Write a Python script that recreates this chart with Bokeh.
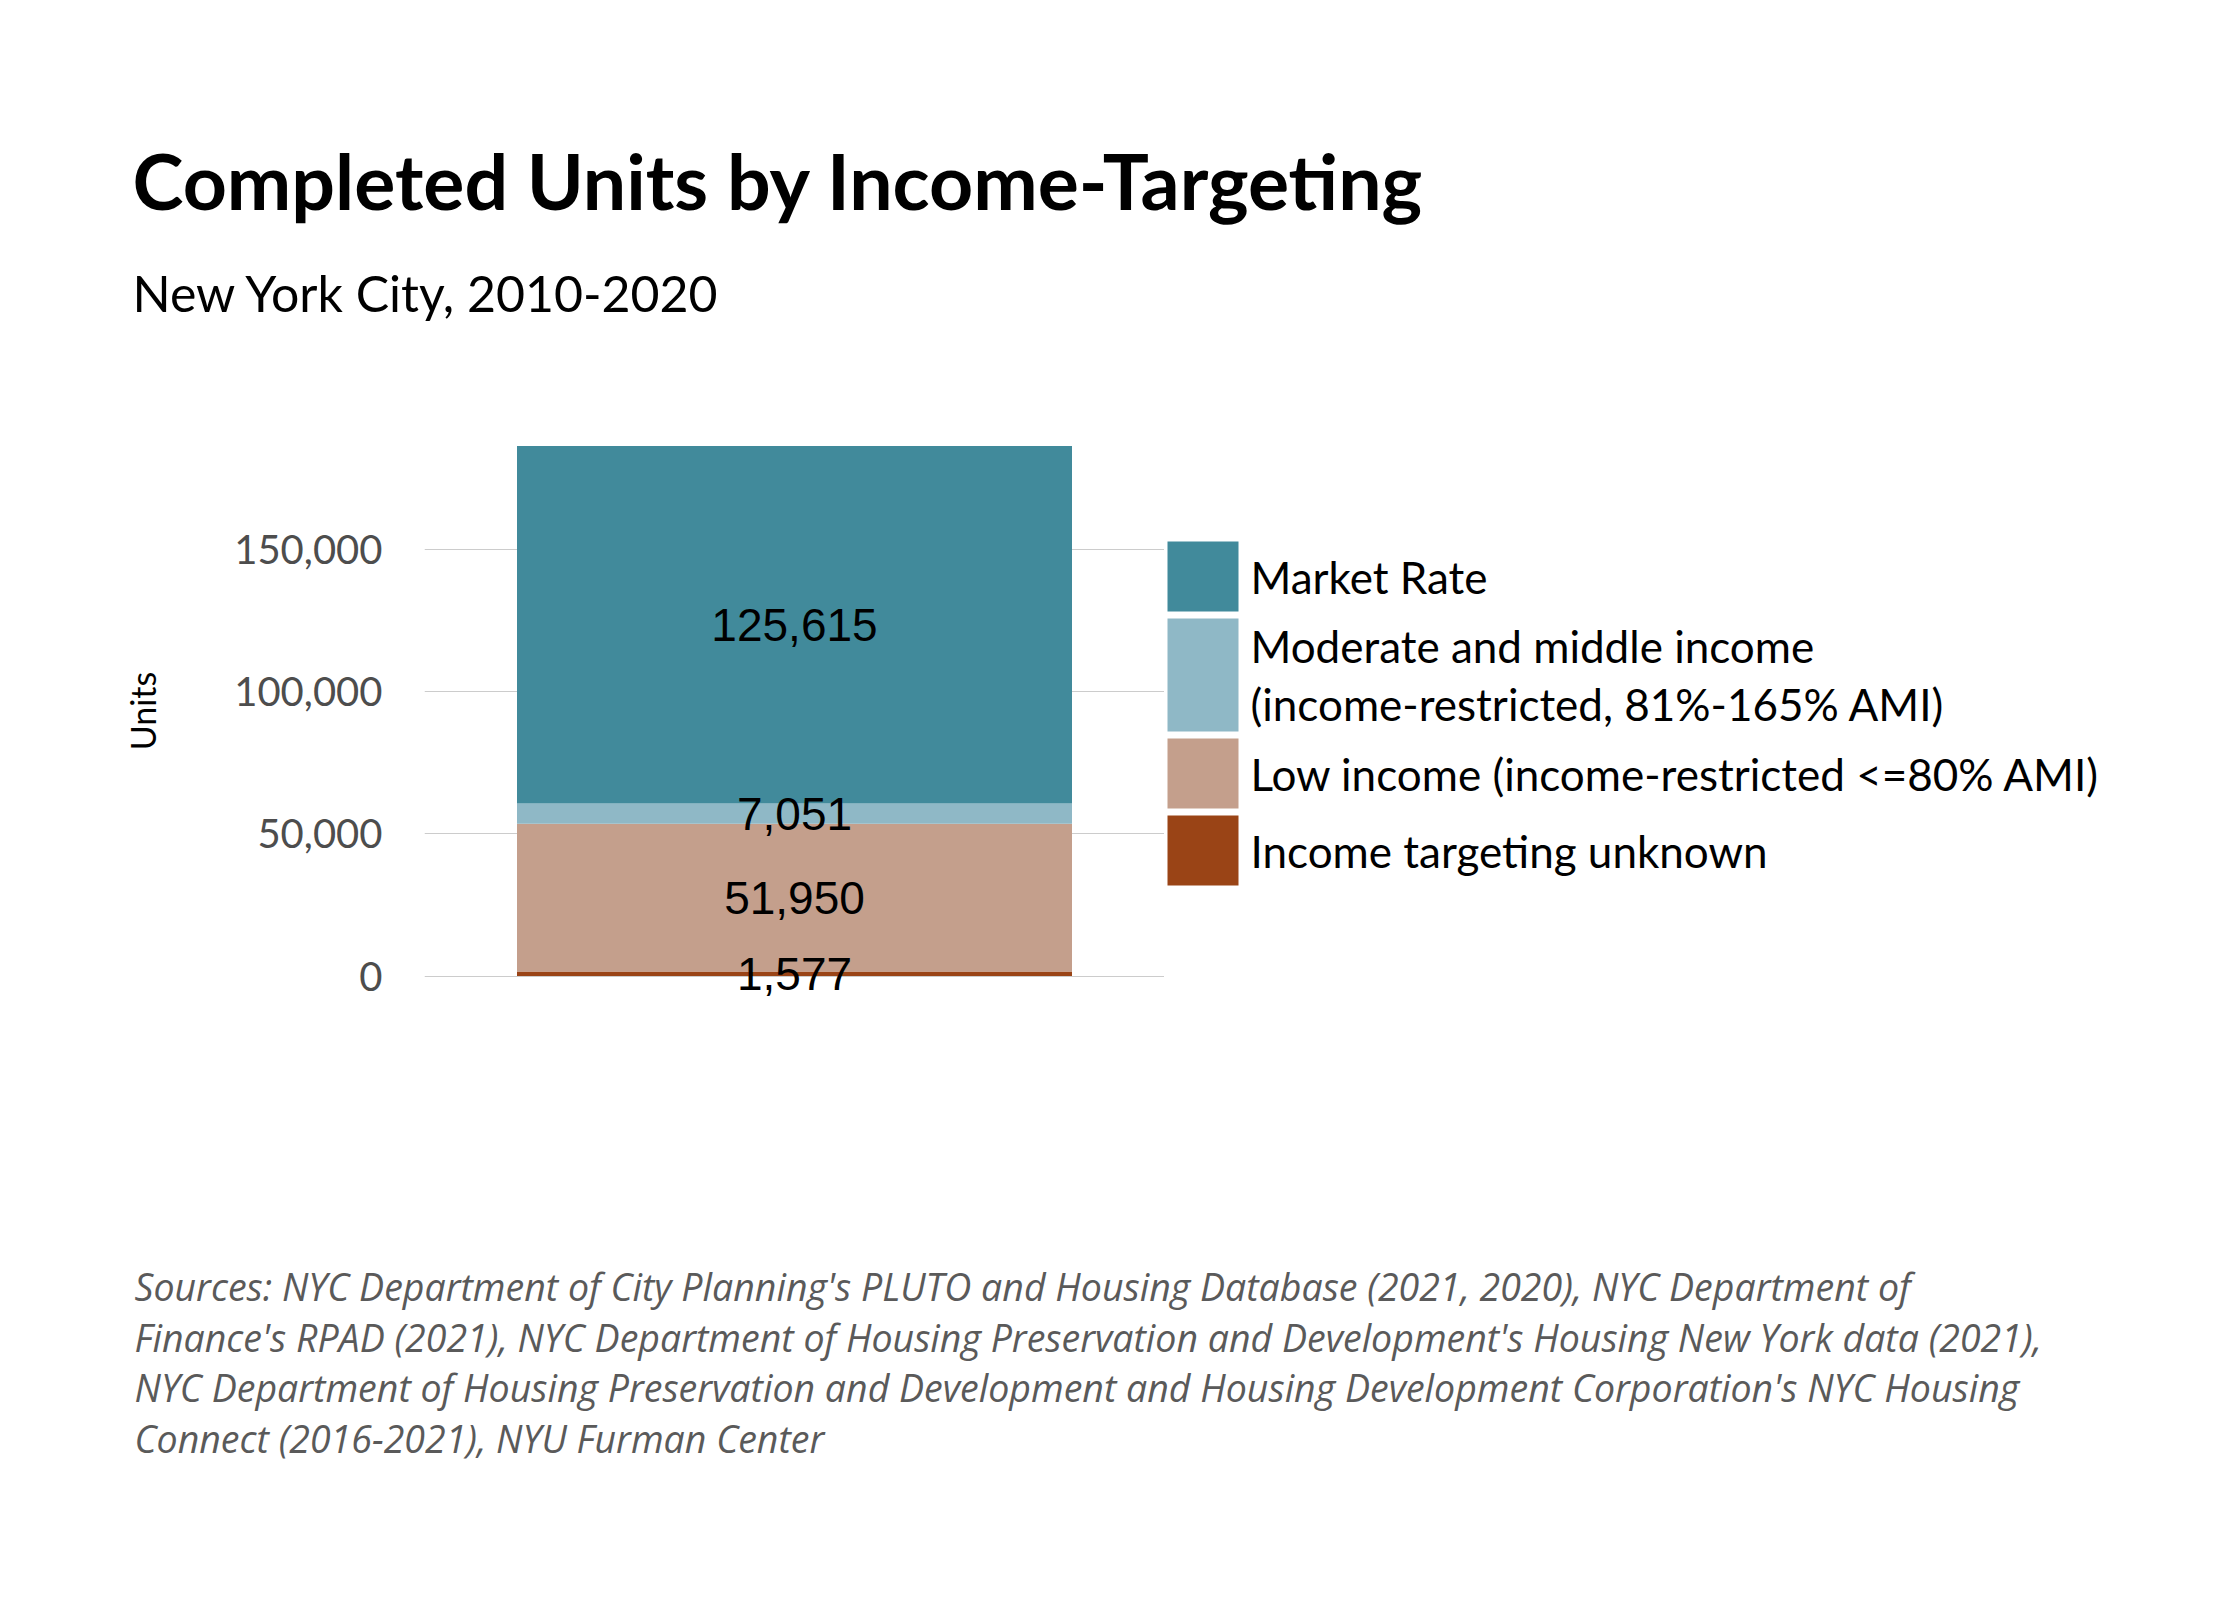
from bokeh.plotting import figure
from bokeh.layouts import column, row
from bokeh.models import (ColumnDataSource, FactorRange, Range1d, FixedTicker,
                          NumeralTickFormatter)
from bokeh.core.properties import value
from bokeh.embed import file_html
from bokeh.resources import INLINE

# ---------------- data ----------------
group = ["New York City, 2010-2020"]
series_keys = ["unknown", "low", "moderate", "market"]
series_labels = [
    ["Income targeting unknown"],
    ["Low income (income-restricted <=80% AMI)"],
    ["Moderate and middle income", "(income-restricted, 81%-165% AMI)"],
    ["Market Rate"],
]
series_values = [1577, 51950, 7051, 125615]
series_colors = ["#9A4416", "#C49F8C", "#8FB8C6", "#418A9B"]
y_ticks = [0, 50000, 100000, 150000]

title_text = "Completed Units by Income-Targeting"
subtitle_text = "New York City, 2010-2020"
y_title = "Units"
source_lines = [
    "Sources: NYC Department of City Planning's PLUTO and Housing Database (2021, 2020), NYC Department of",
    "Finance's RPAD (2021), NYC Department of Housing Preservation and Development's Housing New York data (2021),",
    "NYC Department of Housing Preservation and Development and Housing Development Corporation's NYC Housing",
    "Connect (2016-2021), NYU Furman Center",
]

# ---------------- layout (page pixels) ----------------
W, H = 2224, 1584
HEAD_H = 419          # top of the plot frame
MID_H = 583           # plot frame height
FOOT_H = H - HEAD_H - MID_H
CHART_W = 1164        # right edge of plot frame
FRAME_L = 424         # left edge of plot frame
LEG_W = W - CHART_W


def blank(width, height, x0, x1, y0, y1):
    f = figure(width=width, height=height, title=None,
               x_range=Range1d(x0, x1), y_range=Range1d(y1, y0),
               x_axis_location=None, y_axis_location=None,
               toolbar_location=None, output_backend="svg", min_border=0)
    f.grid.visible = False
    f.outline_line_color = None
    f.background_fill_color = "white"
    f.border_fill_color = "white"
    return f


# ---------------- header ----------------
head = blank(W, HEAD_H, 0, W, 0, HEAD_H)
head.text(x=[132], y=[179], text=[title_text], text_font=value("Lato"),
          text_font_size="77px", text_font_style="bold", text_color="black",
          text_align="left", text_baseline="alphabetic")
head.text(x=[132], y=[292], text=[subtitle_text], text_font=value("Lato"),
          text_font_size="50px", text_color="black",
          text_align="left", text_baseline="alphabetic")

# ---------------- chart ----------------
total = sum(series_values)
data = {"group": group}
for k, v in zip(series_keys, series_values):
    data[k] = [v]
source = ColumnDataSource(data)

p = figure(width=CHART_W, height=MID_H, title=None,
           x_range=FactorRange(factors=group),
           y_range=Range1d(-0.05 * total, 1.05 * total),
           x_axis_location=None,
           output_backend="svg", toolbar_location=None,
           min_border_left=FRAME_L, min_border_right=0,
           min_border_top=0, min_border_bottom=0)
p.outline_line_color = None
p.background_fill_color = "white"
p.border_fill_color = "white"

p.vbar_stack(series_keys, x="group", width=0.75, source=source,
             color=series_colors, line_color=None)

ax = p.yaxis[0]
ax.ticker = FixedTicker(ticks=y_ticks)
ax.formatter = NumeralTickFormatter(format="0,0")
ax.axis_line_color = None
ax.major_tick_line_color = None
ax.minor_tick_line_color = None
ax.major_tick_out = 0
ax.major_tick_in = 0
ax.major_label_standoff = 42
ax.major_label_text_font = "Lato"
ax.major_label_text_font_size = "40px"
ax.major_label_text_color = "#4d4d4d"
ax.axis_label = y_title
ax.axis_label_text_font = "Lato"
ax.axis_label_text_font_size = "34px"
ax.axis_label_text_font_style = "normal"
ax.axis_label_text_color = "black"
ax.axis_label_standoff = 68

p.xgrid.grid_line_color = None
p.ygrid.grid_line_color = "#cccccc"
p.ygrid.grid_line_width = 1.2

bottoms = []
acc = 0
for v in series_values:
    bottoms.append(acc)
    acc += v
mids = [b + v / 2 for b, v in zip(bottoms, series_values)]
lab_src = ColumnDataSource(dict(
    x=[group[0]] * len(series_values),
    y=mids,
    t=[f"{v:,}" for v in series_values],
))
p.text(x="x", y="y", text="t", source=lab_src,
       text_font=value("Liberation Sans"), text_font_size="46px",
       text_color="black", text_align="center", text_baseline="middle")

# ---------------- legend ----------------
leg = blank(LEG_W, MID_H, CHART_W, W, HEAD_H, HEAD_H + MID_H)
sw_l, sw_r = 1167, 1238
one_line_h, two_line_h, gap = 70, 113, 7
line_step = 58
y = 541
q = dict(left=[], right=[], top=[], bottom=[], color=[])
tx, ty, tt = [], [], []
for lines, col in zip(reversed(series_labels), reversed(series_colors)):
    h = one_line_h if len(lines) == 1 else two_line_h
    q["left"].append(sw_l)
    q["right"].append(sw_r)
    q["top"].append(y)
    q["bottom"].append(y + h)
    q["color"].append(col)
    c = y + h / 2
    n = len(lines)
    for i, ln in enumerate(lines):
        tx.append(sw_r + 12)
        ty.append(c + (i - (n - 1) / 2) * line_step)
        tt.append(ln)
    y += h + gap
leg.quad(left="left", right="right", top="top", bottom="bottom", color="color",
         line_color=None, source=ColumnDataSource(q))
leg.text(x=tx, y=ty, text=tt, text_font=value("Lato"), text_font_size="44px",
         text_color="black", text_align="left", text_baseline="middle")

# ---------------- footer ----------------
foot = blank(W, FOOT_H, 0, W, HEAD_H + MID_H, H)
foot.text(x=[134] * len(source_lines),
          y=[1286 + i * 50.5 for i in range(len(source_lines))],
          text=source_lines, text_font=value("Open Sans"), text_font_size="37.5px",
          text_font_style="italic", text_color="#5a5a5a",
          text_align="left", text_baseline="alphabetic")

layout = column(head, row(p, leg, spacing=0), foot, spacing=0)
open("out.html", "w").write(file_html(layout, INLINE))
